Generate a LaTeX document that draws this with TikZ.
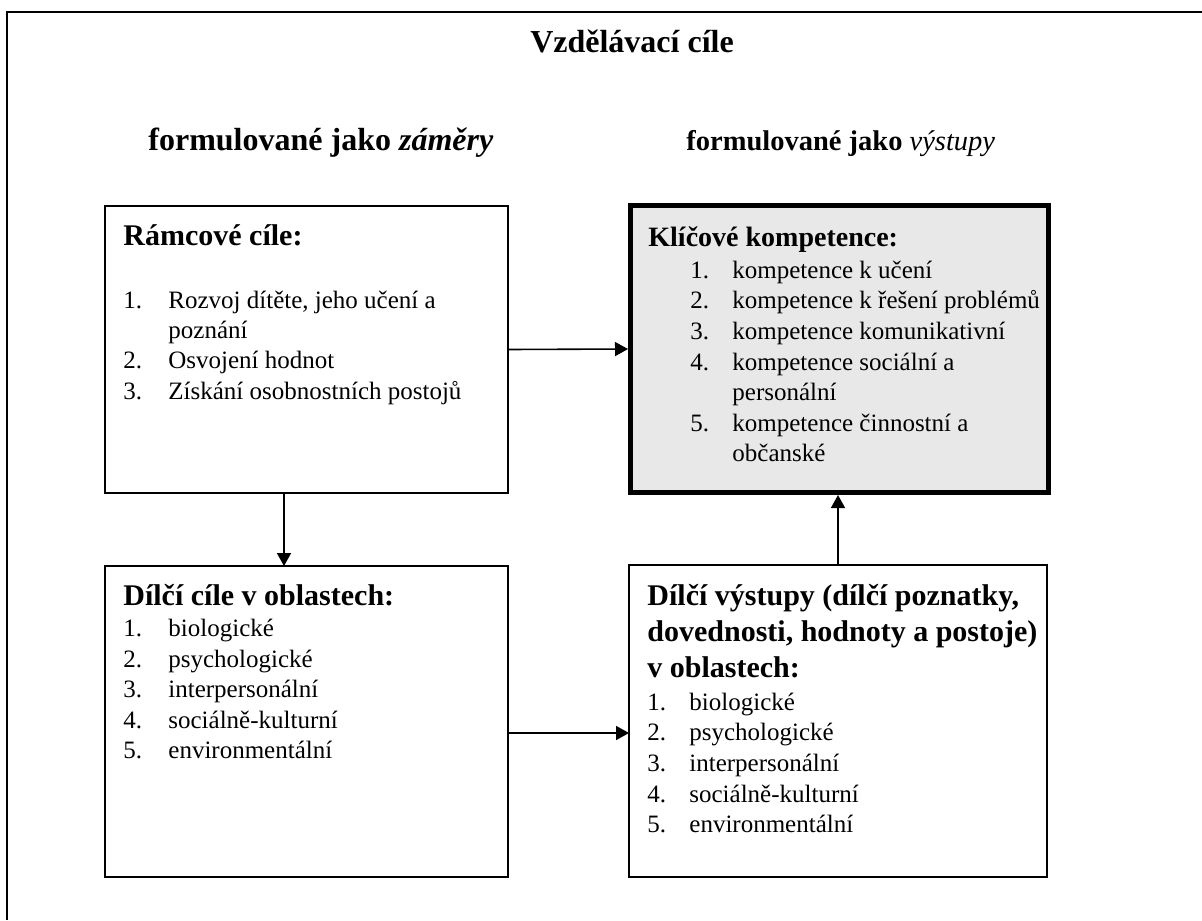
\documentclass[tikz,border=0pt]{standalone}
\usepackage{fontspec}
\setmainfont{Liberation Serif}
\usetikzlibrary{arrows.meta}
\definecolor{keygray}{HTML}{E8E8E8}
\newcommand{\numA}[1]{\makebox[22.5pt][l]{#1}}
\newcommand{\numB}[1]{\makebox[21pt][l]{#1}}
\begin{document}
\begin{tikzpicture}[x=0.5pt,y=-0.5pt,
  box/.style={draw=black, line width=0.9pt, inner sep=0pt, outer sep=0pt, fill=white},
  keybox/.style={draw=black, line width=2.5pt, inner sep=0pt, outer sep=1.25pt, fill=keygray},
  txt/.style={anchor=base west, inner sep=0pt, font=\fontsize{12.5}{15}\selectfont},
  hdr/.style={anchor=base west, inner sep=0pt, font=\fontsize{15}{18}\selectfont\bfseries},
  arr/.style={line width=0.8pt, -{Triangle[length=6.5pt,width=7pt]}}
]
\useasboundingbox (0,0) rectangle (1202,920);
% outer frame (cut by the page at right and bottom)
\draw[line width=0.9pt] (7,920) -- (7,12) -- (1202,12);

% titles
\node[anchor=base, inner sep=0pt, font=\fontsize{16}{19}\selectfont\bfseries] (title) at (632,53) {Vzdělávací cíle};
\node[anchor=base west, inner sep=0pt, font=\fontsize{16}{19}\selectfont\bfseries] (hleft) at (148,150) {formulované jako \textit{záměry}};
\node[anchor=base west, inner sep=0pt, font=\fontsize{14.25}{17}\selectfont] (hright) at (686,150) {\textbf{formulované jako} \textit{výstupy}};

% boxes
\node[box, minimum width=201.5pt, minimum height=143.5pt] (A) at (306.5,349.5) {};
\node[keybox, minimum width=209pt, minimum height=143.5pt] (B) at (839.5,349) {};
\node[box, minimum width=201.5pt, minimum height=155.5pt] (C) at (306.5,721.5) {};
\node[box, minimum width=209pt, minimum height=156pt] (D) at (838,721) {};

% box A text
\node[hdr] (Ah) at (123,245) {Rámcové cíle:};
\node[txt] (A1) at (123,308) {\numA{1.}Rozvoj dítěte, jeho učení a};
\node[txt] (A1b) at (168,338) {poznání};
\node[txt] (A2) at (123,368) {\numA{2.}Osvojení hodnot};
\node[txt] (A3) at (123,399) {\numA{3.}Získání osobnostních postojů};

% box B text
\node[anchor=base west, inner sep=0pt, font=\fontsize{14}{17}\selectfont\bfseries] (Bh) at (648,246) {Klíčové kompetence:};
\node[txt] (B1) at (690,278) {\numB{1.}kompetence k učení};
\node[txt] (B2) at (690,308) {\numB{2.}kompetence k řešení problémů};
\node[txt] (B3) at (690,339) {\numB{3.}kompetence komunikativní};
\node[txt] (B4) at (690,370) {\numB{4.}kompetence sociální a};
\node[txt] (B4b) at (732,400) {personální};
\node[txt] (B5) at (690,431) {\numB{5.}kompetence činnostní a};
\node[txt] (B5b) at (732,461) {občanské};

% box C text
\node[hdr] (Ch) at (123,605) {Dílčí cíle v oblastech:};
\node[txt] (C1) at (123,636) {\numA{1.}biologické};
\node[txt] (C2) at (123,667) {\numA{2.}psychologické};
\node[txt] (C3) at (123,697) {\numA{3.}interpersonální};
\node[txt] (C4) at (123,728) {\numA{4.}sociálně-kulturní};
\node[txt] (C5) at (123,758) {\numA{5.}environmentální};

% box D text
\node[hdr] (Dh1) at (647,605) {Dílčí výstupy (dílčí poznatky,};
\node[hdr] (Dh2) at (647,641) {dovednosti, hodnoty a postoje)};
\node[hdr] (Dh3) at (647,677) {v oblastech:};
\node[txt] (D1) at (647,710) {\numB{1.}biologické};
\node[txt] (D2) at (647,740) {\numB{2.}psychologické};
\node[txt] (D3) at (647,771) {\numB{3.}interpersonální};
\node[txt] (D4) at (647,802) {\numB{4.}sociálně-kulturní};
\node[txt] (D5) at (647,832) {\numB{5.}environmentální};

% connectors
\draw[arr] (A.east) -- (B.west);
\draw[arr] ([xshift=-11.25pt]A.south) -- ([xshift=-11.25pt]C.north);
\draw[arr] ([yshift=-5.75pt]C.east) -- ([yshift=-5.75pt]C.east -| D.west);
\draw[arr] (D.north) -- (D.north |- B.south);
\end{tikzpicture}
\end{document}
